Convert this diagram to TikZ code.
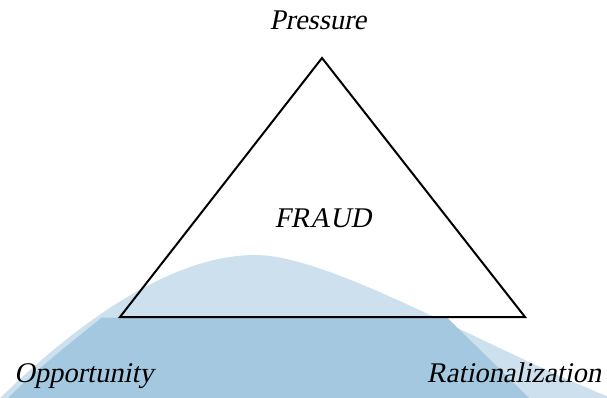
\documentclass[tikz,border=0pt]{standalone}
\usepackage{fontspec}
\newfontfamily\tnr{Liberation Serif}[FakeSlant=0.2]
\definecolor{wmlight}{HTML}{CCE0ED}
\definecolor{wmdark}{HTML}{A3C8DF}
\begin{document}
\begin{tikzpicture}[x=1pt,y=-1pt,
  lbl/.style={font=\tnr\fontsize{28.5}{30}\selectfont, inner sep=0pt, anchor=base},
  tri/.style={draw=black, line width=2pt, line join=miter}]
\useasboundingbox (0,0) rectangle (607,398);
% watermark
\fill[wmlight] (-2,400) .. controls (90,310) and (180,255) .. (255,255)
  .. controls (330,255) and (480,345) .. (609,397) -- (609,399) -- (-2,399) -- cycle;
\fill[wmdark] (7,399) .. controls (40,366) and (78,337) .. (102,317.5)
  -- (447,317.5) -- (530,399) -- cycle;
% triangle
\coordinate (top) at (322,58);
\coordinate (left) at (120,317);
\coordinate (right) at (525,317);
\draw[tri] (top) -- (left) -- (right) -- cycle;
% labels
\node[lbl] (p) at (318,30) {Pressure};
\node[lbl] (f) at (323,227) {FRAUD};
\node[lbl] (o) at (84,382) {Opportunity};
\node[lbl] (r) at (514,382) {Rationalization};
\end{tikzpicture}
\end{document}
